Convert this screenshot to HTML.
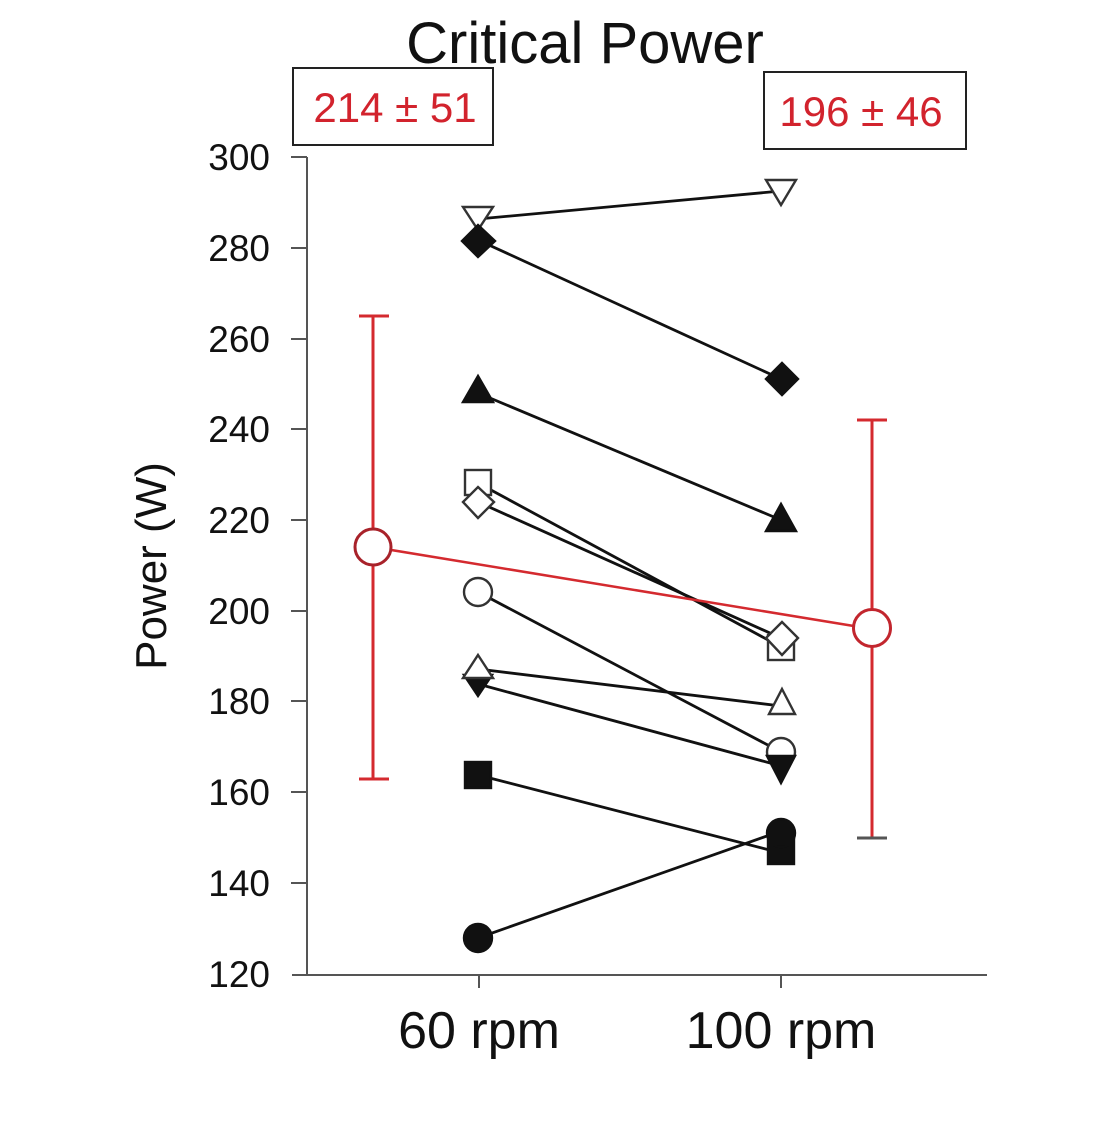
<!DOCTYPE html>
<html>
<head>
<meta charset="utf-8">
<style>
html,body{margin:0;padding:0;background:#fff;}
svg{display:block;}
</style>
</head>
<body>
<svg width="1100" height="1134" viewBox="0 0 1100 1134" xmlns="http://www.w3.org/2000/svg">
<rect x="0" y="0" width="1100" height="1134" fill="#fff"/>

<!-- Title -->
<text x="585" y="63" font-family="Liberation Sans, sans-serif" font-size="58" text-anchor="middle" fill="#111">Critical Power</text>

<!-- Boxes -->
<rect x="293" y="68" width="200" height="77" fill="#fff" stroke="#222" stroke-width="2"/>
<text x="395" y="122" font-family="Liberation Sans, sans-serif" font-size="42" text-anchor="middle" fill="#d2232d">214 ± 51</text>
<rect x="764" y="72" width="202" height="77" fill="#fff" stroke="#222" stroke-width="2"/>
<text x="861" y="126" font-family="Liberation Sans, sans-serif" font-size="42" text-anchor="middle" fill="#d2232d">196 ± 46</text>

<!-- Axes -->
<g stroke="#555" stroke-width="2" fill="none">
<line x1="307" y1="157" x2="307" y2="975"/>
<line x1="292" y1="975" x2="987" y2="975"/>
<line x1="291" y1="157" x2="307" y2="157"/>
<line x1="291" y1="248" x2="307" y2="248"/>
<line x1="291" y1="339" x2="307" y2="339"/>
<line x1="291" y1="429" x2="307" y2="429"/>
<line x1="291" y1="520" x2="307" y2="520"/>
<line x1="291" y1="611" x2="307" y2="611"/>
<line x1="291" y1="701" x2="307" y2="701"/>
<line x1="291" y1="792" x2="307" y2="792"/>
<line x1="291" y1="883" x2="307" y2="883"/>
<line x1="479" y1="975" x2="479" y2="988"/>
<line x1="781" y1="975" x2="781" y2="988"/>
</g>

<!-- Tick labels -->
<g font-family="Liberation Sans, sans-serif" font-size="37" text-anchor="end" fill="#111">
<text x="270" y="170">300</text>
<text x="270" y="261">280</text>
<text x="270" y="352">260</text>
<text x="270" y="442">240</text>
<text x="270" y="533">220</text>
<text x="270" y="624">200</text>
<text x="270" y="714">180</text>
<text x="270" y="805">160</text>
<text x="270" y="896">140</text>
<text x="270" y="987">120</text>
</g>

<text x="479" y="1048" font-family="Liberation Sans, sans-serif" font-size="52" text-anchor="middle" fill="#111">60 rpm</text>
<text x="781" y="1048" font-family="Liberation Sans, sans-serif" font-size="52" text-anchor="middle" fill="#111">100 rpm</text>

<text transform="translate(166,566) rotate(-90)" x="0" y="0" font-family="Liberation Sans, sans-serif" font-size="44" text-anchor="middle" fill="#111">Power (W)</text>

<!-- Error bars -->
<g stroke="#d42a2f" stroke-width="3" fill="none">
<line x1="373" y1="316" x2="373" y2="530"/>
<line x1="373" y1="565" x2="373" y2="779"/>
<line x1="359" y1="316" x2="389" y2="316"/>
<line x1="359" y1="779" x2="389" y2="779"/>
<line x1="872" y1="420" x2="872" y2="610"/>
<line x1="872" y1="647" x2="872" y2="838"/>
<line x1="857" y1="420" x2="887" y2="420"/>
</g>
<line x1="857" y1="838" x2="887" y2="838" stroke="#555" stroke-width="3"/>

<!-- Data lines -->
<g stroke="#111" stroke-width="2.8" fill="none">
<line x1="478" y1="219" x2="781" y2="191"/>
<line x1="478" y1="240" x2="781" y2="379"/>
<line x1="478" y1="393" x2="781" y2="520"/>
<line x1="478" y1="483" x2="781" y2="647"/>
<line x1="478" y1="502" x2="781" y2="638"/>
<line x1="478" y1="592" x2="781" y2="752"/>
<line x1="478" y1="669" x2="781" y2="706"/>
<line x1="478" y1="684" x2="781" y2="766"/>
<line x1="478" y1="775" x2="781" y2="853"/>
<line x1="478" y1="938" x2="781" y2="831"/>
</g>

<!-- Mean line -->
<line x1="373" y1="547" x2="872" y2="629" stroke="#d42a2f" stroke-width="2.5"/>

<!-- Markers 60 rpm -->
<g stroke="#333" stroke-width="2.4">
<polygon points="463,207 493,207 478,230" fill="#fff"/>
<polygon points="478,225 495,241 478,257 462,241" fill="#111" stroke="#111"/>
<polygon points="478,376 493,402 463,402" fill="#111" stroke="#111"/>
<rect x="465" y="470" width="26" height="25" fill="#fff"/>
<polygon points="478,487 494,502 478,518 463,502" fill="#fff"/>
<circle cx="478" cy="592" r="14" fill="#fff"/>
<polygon points="464,675 492,675 478,696" fill="#111" stroke="#111"/>
<polygon points="478,655 493,678 463,678" fill="#fff"/>
<rect x="465" y="762" width="26" height="26" fill="#111" stroke="#111"/>
<circle cx="478" cy="938" r="14" fill="#111" stroke="#111"/>
</g>

<!-- Markers 100 rpm -->
<g stroke="#333" stroke-width="2.4">
<polygon points="766,180 796,180 781,205" fill="#fff"/>
<polygon points="782,363 798,379 782,395 766,379" fill="#111" stroke="#111"/>
<polygon points="781,504 796,531 766,531" fill="#111" stroke="#111"/>
<rect x="768" y="635" width="26" height="25" fill="#fff"/>
<polygon points="782,622 798,638 782,655 766,638" fill="#fff"/>
<polygon points="782,689 795,714 769,714" fill="#fff"/>
<circle cx="781" cy="752" r="14" fill="#fff"/>
<polygon points="767,756 795,756 781,783" fill="#111" stroke="#111"/>
<rect x="768" y="839" width="26" height="25" fill="#111" stroke="#111"/>
<circle cx="781" cy="833" r="14" fill="#111" stroke="#111"/>
</g>

<!-- Mean markers -->
<circle cx="373" cy="547" r="18" fill="#fff" stroke="#a8222a" stroke-width="3"/>
<circle cx="872" cy="628" r="18.5" fill="#fff" stroke="#c2262e" stroke-width="3"/>
</svg>
</body>
</html>
